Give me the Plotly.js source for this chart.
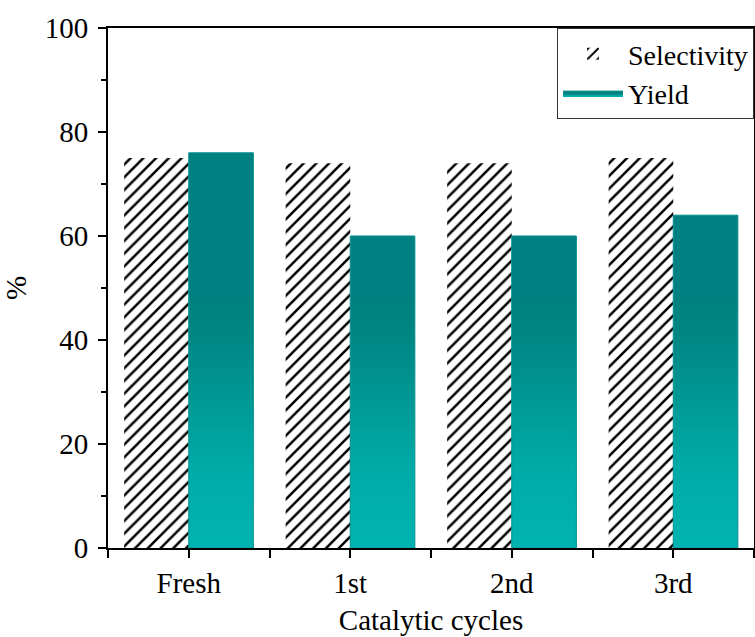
<!DOCTYPE html>
<html>
<head>
<meta charset="utf-8">
<script src="https://cdn.plot.ly/plotly-3.0.1.min.js"></script>
<style>html,body{margin:0;padding:0;background:#fff;}#chart{width:755px;height:637px;}</style>
</head>
<body>
<div id="chart"></div>
<script>
// Data
var categories = ["Fresh", "1st", "2nd", "3rd"];
var selectivity = [75, 74, 74, 75];
var yieldVals = [76, 60, 60, 64];
var yTicks = [0, 20, 40, 60, 80, 100];

var idx = categories.map(function (c, i) { return i; });
var barW = 0.4;

// Yield bars drawn as filled shapes so they can carry a vertical gradient
var yx = [], yy = [];
yieldVals.forEach(function (v, i) {
  yx.push(i, i, i + barW, i + barW, i, null);
  yy.push(0, v, v, 0, 0, null);
});

var font = "Liberation Serif, Times New Roman, serif";

var traces = [
  {
    type: "bar",
    name: "Selectivity",
    x: idx,
    y: selectivity,
    width: barW,
    offset: -barW,
    marker: {
      color: "#ffffff",
      line: { width: 0 },
      pattern: { shape: "/", fgcolor: "#000000", bgcolor: "#ffffff", size: 9, solidity: 0.28 }
    },
    hoverinfo: "y"
  },
  {
    type: "scatter",
    name: "Yield",
    x: yx,
    y: yy,
    mode: "lines",
    fill: "toself",
    line: { color: "#00908d", width: 1 },
    fillgradient: {
      type: "vertical",
      start: 0,
      stop: Math.max.apply(null, yieldVals),
      colorscale: [[0, "#00b4b1"], [0.2, "#00aba8"], [0.55, "#008582"], [0.65, "#008080"], [1, "#008080"]]
    },
    hoverinfo: "y"
  }
];

var layout = {
  width: 755,
  height: 637,
  margin: { l: 108, r: 1, t: 28, b: 89 },
  paper_bgcolor: "#ffffff",
  plot_bgcolor: "#ffffff",
  font: { family: font, color: "#000000", size: 28 },
  showlegend: true,
  legend: {
    x: 1, xanchor: "right", y: 1, yanchor: "top",
    bgcolor: "#ffffff", bordercolor: "#333333", borderwidth: 1,
    font: { family: font, size: 28 },
    itemwidth: 60,
    tracegroupgap: 0
  },
  xaxis: {
    type: "linear",
    range: [-0.5, 3.5],
    tickvals: idx,
    ticktext: categories,
    ticks: "outside",
    ticklen: 8,
    tickwidth: 2,
    tickcolor: "#000",
    minor: { tick0: 0.5, dtick: 1, ticks: "outside", ticklen: 8, tickwidth: 2, tickcolor: "#000", showgrid: false },
    showline: true, linewidth: 2, linecolor: "#000", mirror: true,
    showgrid: false, zeroline: false,
    tickfont: { family: font, size: 29 },
    title: { text: "Catalytic cycles", font: { family: font, size: 29 }, standoff: 12 }
  },
  yaxis: {
    range: [0, 100],
    tickvals: yTicks,
    ticks: "outside",
    ticklen: 8,
    tickwidth: 2,
    tickcolor: "#000",
    ticklabelstandoff: 4,
    minor: { tick0: 10, dtick: 20, ticks: "outside", ticklen: 5, tickwidth: 2, tickcolor: "#000", showgrid: false },
    showline: true, linewidth: 2, linecolor: "#000", mirror: true,
    showgrid: false, zeroline: false,
    tickfont: { family: font, size: 29 },
    title: { text: "%", font: { family: font, size: 29 }, standoff: 10 }
  },
  barmode: "overlay"
};

Plotly.newPlot("chart", traces, layout, { displayModeBar: false, staticPlot: true });
</script>
</body>
</html>
